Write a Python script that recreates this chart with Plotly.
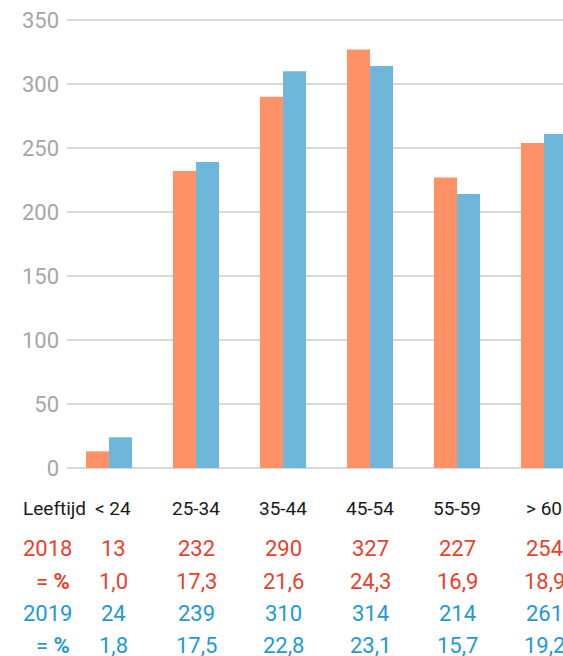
import plotly.graph_objects as go

# Data
age_groups = ["< 24", "25-34", "35-44", "45-54", "55-59", "> 60"]
count_2018 = [13, 232, 290, 327, 227, 254]
count_2019 = [24, 239, 310, 314, 214, 261]
pct_2018 = ["1,0", "17,3", "21,6", "24,3", "16,9", "18,9"]
pct_2019 = ["1,8", "17,5", "22,8", "23,1", "15,7", "19,2"]
y_ticks = [0, 50, 100, 150, 200, 250, 300, 350]

ORANGE = "#FF9166"
BLUE = "#6EB7DB"
RED_TXT = "#E8412C"
BLUE_TXT = "#1E9AD6"
FONT = "Roboto"

fig = go.Figure()
fig.add_trace(go.Bar(x=list(range(len(age_groups))), y=count_2018, name="2018",
                     marker=dict(color=ORANGE, line=dict(width=0))))
fig.add_trace(go.Bar(x=list(range(len(age_groups))), y=count_2019, name="2019",
                     marker=dict(color=BLUE, line=dict(width=0))))

# plot area: 453px tall at 1.28 px per unit; table rows hang below it in paper units
Y_MAX = 453 / 1.28
PLOT_H = 453


def py(offset_px):
    return -offset_px / PLOT_H


row_y = {"age": py(40), "c18": py(80), "p18": py(113), "c19": py(146), "p19": py(177)}
ann = []


def cell(x, y, text, color, size, xref="x", xanchor="center"):
    ann.append(dict(x=x, y=y, xref=xref, yref="paper", text=text, showarrow=False,
                    xanchor=xanchor, yanchor="middle",
                    font=dict(family=FONT, size=size, color=color)))


for i, g in enumerate(age_groups):
    xi = i + (0.05 if i == 0 else 0)
    cell(xi, row_y["age"], g, "#1a1a1a", 19)
    cell(xi, row_y["c18"], str(count_2018[i]), RED_TXT, 22)
    cell(xi, row_y["p18"], pct_2018[i], RED_TXT, 22)
    cell(xi, row_y["c19"], str(count_2019[i]), BLUE_TXT, 22)
    cell(xi, row_y["p19"], pct_2019[i], BLUE_TXT, 22)

cell(-0.092, row_y["age"], "Leeftijd", "#1a1a1a", 19, xref="paper", xanchor="left")
cell(-0.092, row_y["c18"], "2018", RED_TXT, 22, xref="paper", xanchor="left")
cell(0.011, row_y["p18"], "= <b>%</b>", RED_TXT, 22, xref="paper", xanchor="right")
cell(-0.092, row_y["c19"], "2019", BLUE_TXT, 22, xref="paper", xanchor="left")
cell(0.011, row_y["p19"], "= <b>%</b>", BLUE_TXT, 22, xref="paper", xanchor="right")

fig.update_layout(
    width=563, height=656,
    margin=dict(l=67, r=0, t=15, b=188),
    paper_bgcolor="white", plot_bgcolor="white",
    barmode="group", bargap=0.47, bargroupgap=0,
    showlegend=False,
    annotations=ann,
    xaxis=dict(range=[-0.483, 5.218], showticklabels=False, showgrid=False,
               zeroline=False, showline=False, ticks=""),
    yaxis=dict(range=[0, Y_MAX], tickvals=y_ticks, showgrid=True, gridcolor="#D9D9D9",
               gridwidth=1.5, zeroline=True, zerolinecolor="#D9D9D9", zerolinewidth=1.5,
               showline=False, ticks="", ticklabelstandoff=7, ticklabeloverflow="allow",
               tickfont=dict(family=FONT, size=22, color="#A6A6A6")),
)

# drop the default page margin so the figure fills the window exactly
fig.write_html("out.html", config={"displayModeBar": False},
               post_script="document.body.style.margin='0';")
